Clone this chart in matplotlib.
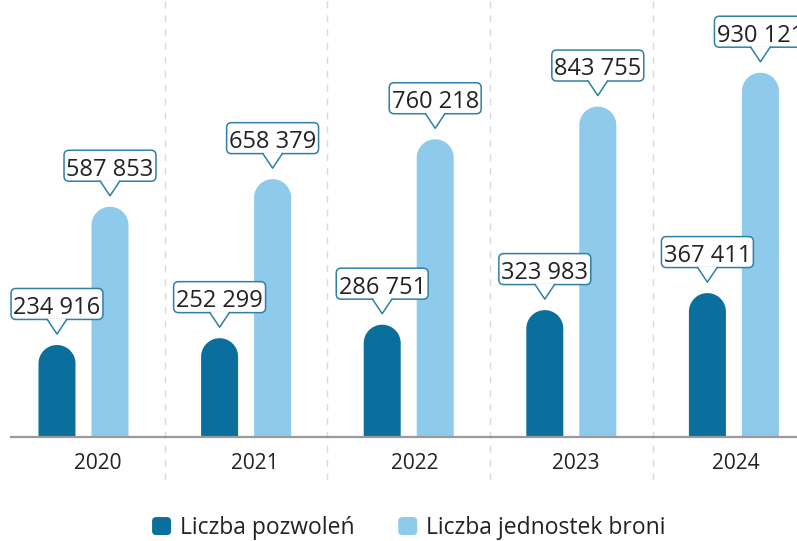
import numpy as np
import matplotlib.pyplot as plt
import matplotlib.transforms as mtransforms
from matplotlib.patches import FancyBboxPatch, Polygon, Patch
from matplotlib.legend_handler import HandlerPatch
from matplotlib.lines import Line2D

plt.rcParams['font.family'] = ['Open Sans', 'DejaVu Sans']

years = ['2020', '2021', '2022', '2023', '2024']
pozwolenia = [234916, 252299, 286751, 323983, 367411]
jednostki = [587853, 658379, 760218, 843755, 930121]
series_labels = ['Liczba pozwoleń', 'Liczba jednostek broni']

dark = '#0a6f9c'
light = '#8ecaea'
border = '#2f7fa6'
txt = '#222222'

fig = plt.figure(figsize=(7.97, 5.41), dpi=100)
ax = fig.add_axes([10 / 797, 61 / 541, 787 / 797, 480 / 541])
ax.set_xlim(-0.452, 4.388)
ax.set_ylim(-109800, 1115900)
ax.axis('off')

# px -> data units
px_x = 1 / 162.6
px_y = 2553.6
bw = 37 * px_x
off = 26.5 * px_x
r = bw / 2 * 162.6 * px_y  # corner radius in value units


def fmt(v):
    return f'{v:,}'.replace(',', ' ')


def rounded_bar(x, v, color):
    t = np.linspace(np.pi, 0, 40)
    xs = np.concatenate([[x - bw / 2], x + bw / 2 * np.cos(t), [x + bw / 2]])
    ys = np.concatenate([[0], v - r + r * np.sin(t), [0]])
    ax.add_patch(Polygon(np.column_stack([xs, ys]), closed=True, fc=color,
                         ec='none', zorder=2))


def callout(x, v):
    # shapes given in points relative to bar top
    tr = mtransforms.Affine2D().scale(fig.dpi / 72) + \
        mtransforms.ScaledTranslation(x, v, ax.transData)
    gap, ph, bh, bwid, hb = 7.9, 10.5, 22.3, 66.2, 7.0
    y0 = gap + ph
    box = FancyBboxPatch((-bwid / 2, y0), bwid, bh,
                         boxstyle='round,pad=0,rounding_size=3.6',
                         fc='white', ec=border, lw=1.1, transform=tr,
                         zorder=5, clip_on=False)
    ax.add_patch(box)
    tri = Polygon([(-hb, y0 + 0.8), (hb, y0 + 0.8), (0, gap)], closed=True,
                  fc='white', ec='none', transform=tr, zorder=6, clip_on=False)
    ax.add_patch(tri)
    ax.add_line(Line2D([-hb, 0, hb], [y0, gap, y0], color=border, lw=1.1,
                       transform=tr, zorder=7, clip_on=False))
    ax.text(0, y0 + 4.0, fmt(v), transform=tr, ha='center', va='baseline',
            fontsize=17, color=txt, zorder=8, clip_on=False)


for i in range(len(years)):
    rounded_bar(i - off, pozwolenia[i], dark)
    rounded_bar(i + off, jednostki[i], light)
    callout(i - off, pozwolenia[i])
    callout(i + off, jednostki[i])

for i in range(len(years) - 1):
    ax.axvline(i + 0.5, color='#dadada', lw=1, dashes=(5, 5), zorder=1)

ax.axhline(0, color='#9a9a9a', lw=1.6, zorder=3)

label_shift = [0.09, 0.055, 0.04, 0.025, 0.01]
for i, y in enumerate(years):
    ax.annotate(y, (i + label_shift[i], 0), xytext=(0, -23),
                textcoords='offset points', ha='center', va='baseline',
                fontsize=15, color=txt)


class RoundHandler(HandlerPatch):
    def create_artists(self, legend, orig_handle, xdescent, ydescent,
                       width, height, fontsize, trans):
        p = FancyBboxPatch((-xdescent, -ydescent), width, height,
                           boxstyle='round,pad=0,rounding_size=3',
                           fc=orig_handle.get_facecolor(), ec='none',
                           transform=trans)
        return [p]


handles = [Patch(color=dark), Patch(color=light)]
fig.legend(handles, series_labels, loc='center', bbox_to_anchor=(0.513, 1 - 528 / 541),
           ncol=2, frameon=False, fontsize=16.5, handlelength=0.83, handleheight=0.83,
           handletextpad=0.39, columnspacing=1.9, labelcolor=txt,
           handler_map={Patch: RoundHandler()})

fig.savefig('out.png', dpi=100)
